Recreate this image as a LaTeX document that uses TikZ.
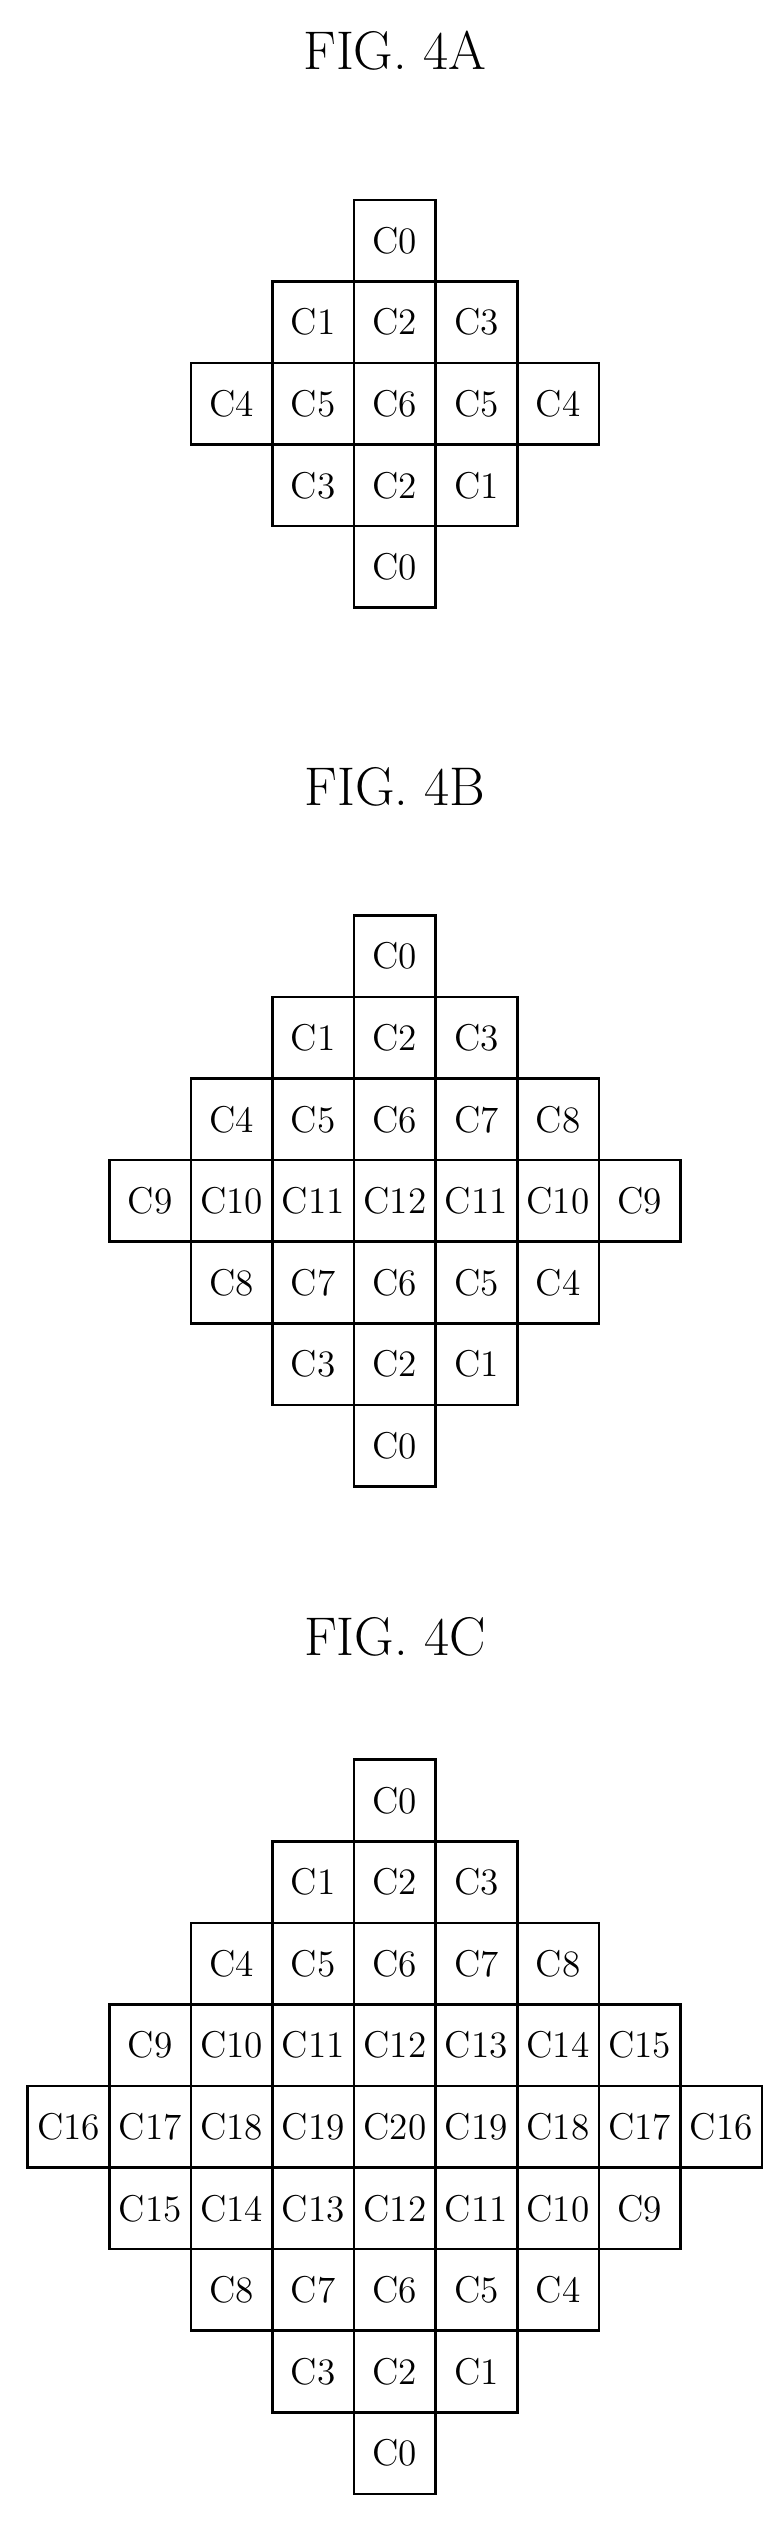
\documentclass[tikz,border=0pt]{standalone}
\usetikzlibrary{positioning}
\tikzset{
  cell/.style={draw, line width=0.9pt, minimum size=1cm, inner sep=0pt, font=\fontsize{13}{15}\selectfont},
  figtitle/.style={font=\fontsize{19}{22}\selectfont}
}
% #1 name prefix, #2 top of grid, #3 rows (row/start/{labels})
\newcommand\cellgrid[3]{%
  \foreach \r/\s/\row in {#3} {
    \foreach \lbl [count=\i] in \row {
      \node[cell] (#1-\r-\i) at ({4.84+\s+\i-1},{-#2-0.5-\r}) {\lbl};
    }
  }
}
\begin{document}
\begin{tikzpicture}
\useasboundingbox (0,0) rectangle (9.61,-31.16);

% FIG. 4A
\node[figtitle] (ta) at (4.84,-0.62) {FIG. 4A};
\cellgrid{fa}{2.45}{0/0/{C0},1/-1/{C1,C2,C3},2/-2/{C4,C5,C6,C5,C4},3/-1/{C3,C2,C1},4/0/{C0}}

% FIG. 4B
\node[figtitle] (tb) at (4.84,-9.64) {FIG. 4B};
\cellgrid{fb}{11.22}{0/0/{C0},1/-1/{C1,C2,C3},2/-2/{C4,C5,C6,C7,C8},3/-3/{C9,C10,C11,C12,C11,C10,C9},4/-2/{C8,C7,C6,C5,C4},5/-1/{C3,C2,C1},6/0/{C0}}

% FIG. 4C
\node[figtitle] (tc) at (4.84,-20.06) {FIG. 4C};
\cellgrid{fc}{21.57}{0/0/{C0},1/-1/{C1,C2,C3},2/-2/{C4,C5,C6,C7,C8},3/-3/{C9,C10,C11,C12,C13,C14,C15},4/-4/{C16,C17,C18,C19,C20,C19,C18,C17,C16},5/-3/{C15,C14,C13,C12,C11,C10,C9},6/-2/{C8,C7,C6,C5,C4},7/-1/{C3,C2,C1},8/0/{C0}}

\end{tikzpicture}
\end{document}
